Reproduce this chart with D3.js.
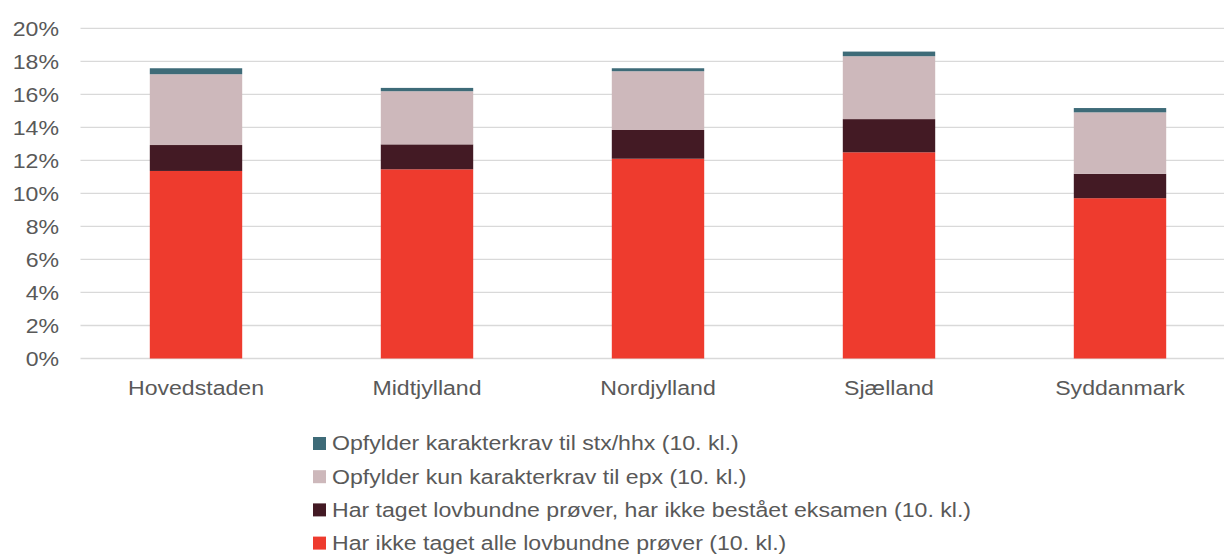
<!DOCTYPE html>
<html><head><meta charset="utf-8">
<script src="https://cdn.jsdelivr.net/npm/d3@7"></script>
<style>
body{margin:0;background:#fff;}
text{font-family:"Liberation Sans",Arial,sans-serif;fill:#595959;}
</style></head><body>
<svg id="c" width="1224" height="555"></svg>
<script>
const categories = ["Hovedstaden","Midtjylland","Nordjylland","Sjælland","Syddanmark"];
const seriesNames = [
  "Har ikke taget alle lovbundne prøver (10. kl.)",
  "Har taget lovbundne prøver, har ikke bestået eksamen (10. kl.)",
  "Opfylder kun karakterkrav til epx (10. kl.)",
  "Opfylder karakterkrav til stx/hhx (10. kl.)"
];
const ikkeTaget   = [11.36, 11.46, 12.10, 12.49, 9.71];
const ikkeBestaaet= [1.57, 1.51, 1.74, 2.01, 1.47];
const kunEpx      = [4.29, 3.22, 3.56, 3.81, 3.73];
const stxHhx      = [0.36, 0.20, 0.18, 0.28, 0.26];
const yTicks = [0,2,4,6,8,10,12,14,16,18,20];
const colors = ["#ee3b2e","#431a24","#cdb8bb","#3e6b78"];

const seriesValues = [ikkeTaget, ikkeBestaaet, kunEpx, stxHhx];
const rows = categories.map((c,i)=>{
  const r={cat:c};
  seriesNames.forEach((s,j)=>r[s]=seriesValues[j][i]);
  return r;
});
const stack = d3.stack().keys(seriesNames)(rows);

const svg = d3.select("#c");
const x = d3.scaleBand().domain(categories).range([80.5,1235.5]).paddingInner(0.6).paddingOuter(0.3);
const y = d3.scaleLinear().domain([0,20]).range([358.5,28.3]);
const SX = 1.1, FS = 21;

// gridlines
svg.append("g").selectAll("line").data(yTicks).join("line")
  .attr("x1",80.5).attr("x2",1224)
  .attr("y1",d=>y(d)).attr("y2",d=>y(d))
  .attr("stroke","#d9d9d9").attr("stroke-width",1.3);

// bars
svg.append("g").selectAll("g").data(stack).join("g")
  .attr("fill",(d,i)=>colors[i])
  .selectAll("rect").data(d=>d).join("rect")
  .attr("x",d=>x(d.data.cat)).attr("width",x.bandwidth())
  .attr("y",d=>y(d[1])).attr("height",d=>y(d[0])-y(d[1]));

// y axis labels
const yAxis = d3.axisLeft(y).tickValues(yTicks).tickFormat(d=>d+"%").tickSize(0).tickPadding(0);
const ya = svg.append("g").attr("transform","translate(59,0)").call(yAxis);
ya.select(".domain").remove();
ya.selectAll("text").attr("font-size",FS).attr("fill","#595959")
  .attr("font-family","Liberation Sans, Arial, sans-serif")
  .attr("x",null).attr("dy","0.35em")
  .attr("transform",`scale(${SX},1)`);

// x axis labels
const xAxis = d3.axisBottom(x).tickSize(0).tickPadding(0);
const xa = svg.append("g").attr("transform","translate(0,358.5)").call(xAxis);
xa.select(".domain").remove();
xa.selectAll("text").attr("font-size",FS).attr("fill","#595959")
  .attr("font-family","Liberation Sans, Arial, sans-serif")
  .attr("y",37).attr("dy",null)
  .attr("transform",`scale(${SX},1)`);

// legend
const legendOrder = [3,2,1,0];
const lg = svg.append("g");
legendOrder.forEach((si,k)=>{
  const cy = 443.5 + k*33.2;
  lg.append("rect").attr("x",313).attr("y",cy-6.5).attr("width",13).attr("height",13).attr("fill",colors[si]);
  lg.append("text").attr("x",332/SX).attr("y",cy).attr("dy","0.33em")
    .attr("font-size",FS).attr("transform",`scale(${SX},1)`)
    .text(seriesNames[si]);
});
</script></body></html>
